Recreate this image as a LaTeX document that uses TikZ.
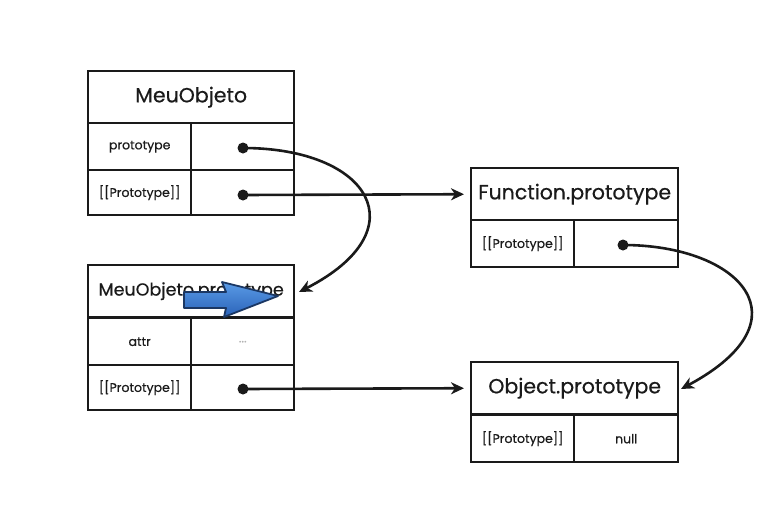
\documentclass[tikz,border=0pt]{standalone}
\usepackage{fontspec}
\setmainfont{Poppins}[FakeBold=0.6]
\usetikzlibrary{arrows.meta}
\definecolor{ink}{HTML}{1A1A1A}
\definecolor{bluetop}{HTML}{5A9BE6}
\definecolor{bluebot}{HTML}{2A62B8}
\definecolor{blueedge}{HTML}{1B3763}
\tikzset{
  cell/.style={draw=ink, line width=2.4pt, minimum width=103pt, inner sep=0pt, anchor=north west, font=\fontsize{12.5}{14}\selectfont, text=ink},
  title/.style={draw=ink, line width=2.4pt, minimum width=206pt, minimum height=52pt, inner sep=0pt, anchor=north west, font=\fontsize{20.5}{24}\selectfont, text=ink},
  conn/.style={line width=2.6pt, draw=ink, -{Stealth[length=13pt,width=12pt,inset=4pt]}},
  dotm/.style={circle, fill=ink, inner sep=0pt, minimum size=11pt},
}
\begin{document}
\begin{tikzpicture}[x=1pt,y=-1pt]
\useasboundingbox (0,0) rectangle (776,512);
% Box 1: MeuObjeto
\node[title] (t1) at (87,70) {MeuObjeto};
\node[cell, minimum height=47pt] (p1) at (87,122) {prototype};
\node[cell, minimum height=47pt] (v1) at (190,122) {};
\node[cell, minimum height=45pt] (q1) at (87,169) {[[Prototype]]};
\node[cell, minimum height=45pt] (w1) at (190,169) {};
% Box 2: MeuObjeto.prototype
\node[title, font=\fontsize{17.5}{21}\selectfont] (t2) at (87,264) {MeuObjeto.prototype};
\node[cell, minimum height=47pt] (a2) at (87,317) {attr};
\node[cell, minimum height=47pt, text=gray!60] (b2) at (190,317) {...};
\node[cell, minimum height=45pt] (q2) at (87,364) {[[Prototype]]};
\node[cell, minimum height=45pt] (w2) at (190,364) {};
% Box 3: Function.prototype
\node[title, minimum width=207pt] (t3) at (470,167) {Function.prototype};
\node[cell, minimum height=47pt] (q3) at (470,219) {[[Prototype]]};
\node[cell, minimum height=47pt, minimum width=104pt] (w3) at (573,219) {};
% Box 4: Object.prototype
\node[title, minimum width=207pt] (t4) at (470,361) {Object.prototype};
\node[cell, minimum height=47pt] (q4) at (470,414) {[[Prototype]]};
\node[cell, minimum height=47pt, minimum width=104pt] (w4) at (573,414) {null};
% dots
\node[dotm] (d1) at (243,148) {};
\node[dotm] (d2) at (243,195) {};
\node[dotm] (d3) at (243,389) {};
\node[dotm] (d4) at (623,245) {};
\coordinate (e1) at (299,292);
\coordinate (e4) at (681,389);
% connectors
\draw[conn] (d1.center) .. controls (370,148) and (420,230) .. (e1);
\draw[conn, shorten >=6pt] (d2.center) -- (t3.west);
\draw[conn, shorten >=6pt] (d3.center) -- (t4.west);
\draw[conn] (d4.center) .. controls (740,245) and (810,320) .. (e4);
% blue block arrow
\draw[blueedge, line width=1.8pt, line join=round, top color=bluetop, bottom color=bluebot]
  (184,292) -- (226,292) -- (222,282) -- (278,296) -- (224,317) -- (226,308) -- (184,308) -- cycle;
\end{tikzpicture}
\end{document}
